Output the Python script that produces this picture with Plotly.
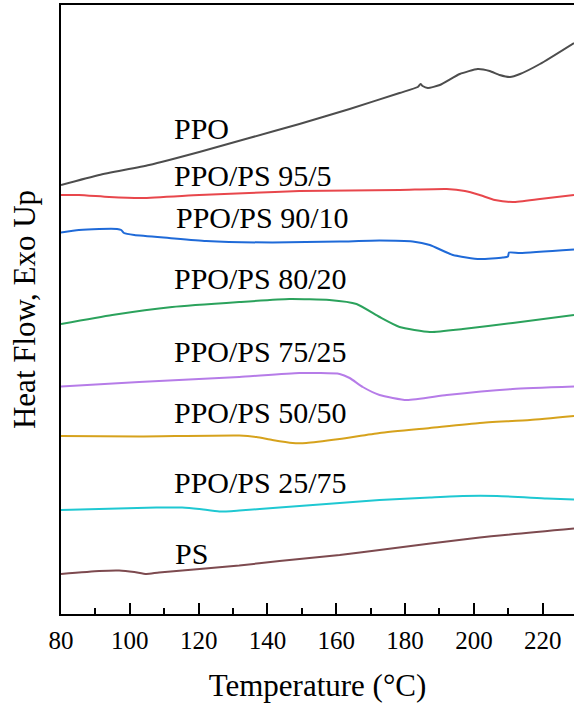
import plotly.graph_objects as go

# Temperature (°C) and heat flow (arbitrary units, Exo Up, offset stacked)
ppo_t = [80, 91.1, 105.6, 120.2, 134.7, 149.3, 163.9, 178.4, 183.7, 184.5, 185.1, 186.6, 190.1, 195.9, 201.1, 204.6, 207.5, 210.5, 213.4, 219.2, 229.1]
ppo_h = [429, 439, 449, 462, 476, 490, 505, 521, 527, 530, 528, 526, 529, 540, 545, 543, 539, 537, 540, 550, 571]

p95_t = [80, 85.2, 94, 103.6, 120.2, 134.7, 149.3, 178.4, 192.1, 197.4, 201.7, 206.1, 211.3, 219.2, 229.1]
p95_h = [419, 419, 417, 416, 419, 421, 423, 424, 425, 423, 419, 414, 412, 415, 419]

p90_t = [80, 85.2, 91.1, 96.3, 97.5, 98.3, 101.3, 111.4, 122.2, 141.4, 161, 172.6, 182.2, 187.2, 193.9, 201.7, 208.4, 209.9, 210.2, 213.4, 229.1]
p90_h = [381.5, 384, 385, 385, 384, 381, 379, 376, 373, 371.5, 372.5, 373.5, 372.5, 369, 359, 355, 356.5, 357.5, 361.5, 361, 364.5]

p80_t = [80, 94.9, 112.3, 131.8, 146.4, 158, 165.9, 172.6, 178.4, 187.2, 196.8, 211.3, 229.1]
p80_h = [290, 299, 307, 312, 315, 314, 310, 297, 287, 282, 285, 291, 299]

p75_t = [80, 102.7, 131.8, 149.3, 161, 163.9, 167.7, 172.6, 180.5, 192.1, 211.3, 229.1]
p75_h = [227.5, 232, 237, 241, 240, 236, 227, 219, 214, 219, 225, 227.5]

p50_t = [80, 102.7, 131.8, 136.8, 141.4, 147.3, 151.3, 161, 172.6, 187.2, 201.7, 216.3, 229.1]
p50_h = [178, 177.5, 178.5, 177, 174, 171, 171, 175, 181, 186, 191, 194, 198]

p25_t = [80, 107.7, 115.2, 120.2, 126, 131.8, 143.5, 161, 172.6, 187.2, 196.8, 206.7, 221.2, 229.1]
p25_h = [104, 106.5, 106.5, 105, 102.5, 103.5, 106.5, 111, 114, 116.5, 118, 118, 115.5, 114.5]

ps_t = [80, 91.1, 96.9, 101.3, 104.8, 108.5, 131.8, 143.5, 161, 172.6, 201.7, 229.1]
ps_h = [40, 43, 43.5, 42, 40, 41.5, 48.5, 53, 59, 64, 76.5, 85.5]

labels = ["PPO", "PPO/PS 95/5", "PPO/PS 90/10", "PPO/PS 80/20",
          "PPO/PS 75/25", "PPO/PS 50/50", "PPO/PS 25/75", "PS"]
label_x = [112.3, 112.3, 112.8, 112.3, 112.3, 112.3, 112.3, 112.6]
label_y = [486, 439, 397, 336, 263, 202, 132, 61]

series_t = [ppo_t, p95_t, p90_t, p80_t, p75_t, p50_t, p25_t, ps_t]
series_h = [ppo_h, p95_h, p90_h, p80_h, p75_h, p50_h, p25_h, ps_h]
colors = ["#4d4d4d", "#e8474c", "#1f6ad8", "#2ba25c", "#b67ce8", "#d6a21c", "#1fc8d2", "#7d4a4f"]

FONT = "Liberation Serif"

fig = go.Figure()
for t, h, c, n in zip(series_t, series_h, colors, labels):
    fig.add_trace(go.Scatter(x=t, y=h, mode="lines", name=n,
                             line=dict(color=c, width=2, shape="spline", smoothing=0.5)))

for lab, lx, ly in zip(labels, label_x, label_y):
    fig.add_annotation(x=lx, y=ly, text=lab, showarrow=False, xanchor="left",
                       yanchor="middle", font=dict(family=FONT, size=30, color="black"))

fig.update_layout(
    width=574, height=710,
    margin=dict(l=61, r=0, t=5, b=96),
    paper_bgcolor="white", plot_bgcolor="white",
    showlegend=False,
    font=dict(family=FONT, color="black"),
)
fig.update_xaxes(
    range=[80, 229.1], tick0=80, dtick=20,
    ticks="inside", ticklen=11, tickwidth=2, tickcolor="black",
    minor=dict(ticks="inside", dtick=10, ticklen=6, tickwidth=2, tickcolor="black"),
    showline=True, linewidth=2, linecolor="black", mirror=True,
    showgrid=False, zeroline=False, ticklabelstandoff=3,
    tickfont=dict(family=FONT, size=25, color="black"),
    title=dict(text="Temperature (°C)", font=dict(family=FONT, size=31, color="black"), standoff=21),
)
fig.update_yaxes(
    range=[0, 609], showticklabels=False, ticks="",
    showline=True, linewidth=2, linecolor="black",
    showgrid=False, zeroline=False,
    title=dict(text="Heat Flow, Exo Up", font=dict(family=FONT, size=31, color="black"), standoff=14),
)

fig.write_html("out.html")
